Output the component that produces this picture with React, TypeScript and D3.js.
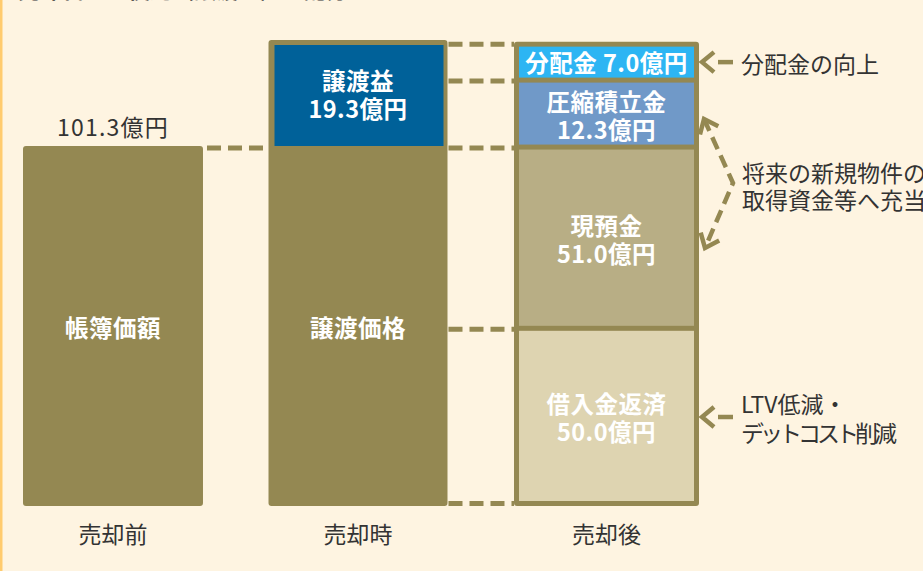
import React from 'react';
import * as d3 from 'd3';

// --- data ---
const categories = ['売却前', '売却時', '売却後'];
const bookValue = 101.3;
const gainOnSale = 19.3;
const afterLabels = ['借入金返済', '現預金', '圧縮積立金', '分配金'];
const afterValues = [50.0, 51.0, 12.3, 7.0];
const afterColors = ['#ded4b1', '#b8ae85', '#7099c8', '#2db5f3'];
const noteDistribution = ['分配金の向上'];
const noteCash = ['将来の新規物件の', '取得資金等へ充当'];
const noteDebt = ['LTV低減・', 'デットコスト削減'];
const title = '売却代金の使途（譲渡益）の配分イメージ';

const W = 923;
const H = 571;
const OLIVE = '#948852';
const FONT = '"Noto Sans CJK JP", "Noto Sans", sans-serif';

const fmt = (v: number) => `${v.toFixed(1)}億円`;

export default function App() {
  const total = bookValue + gainOnSale;
  const y = d3.scaleLinear().domain([0, bookValue, total]).range([506, 146, 40]);
  const x = d3.scaleBand<string>().domain(categories).range([23, 696]).paddingInner(0.2587).paddingOuter(0);
  const bw = x.bandwidth();

  // stacked segments for the "after" bar
  const stack = afterValues.map((v, i) => {
    const lo = d3.sum(afterValues.slice(0, i));
    return { label: afterLabels[i], value: v, lo, hi: lo + v, color: afterColors[i], i };
  });
  const afterTotal = d3.sum(afterValues);

  const x1 = x(categories[0])!;
  const x2 = x(categories[1])!;
  const x3 = x(categories[2])!;
  const bw1 = bw - 2;
  const bw2 = bw - 3;
  const bw3 = bw + 3;

  const bar3Top = y(afterTotal);

  // dashed connector levels (bar2 -> bar3)
  const levels = [0, ...stack.map((s) => s.hi)];
  const levelY = (v: number, i: number) =>
    i === 0 ? y(0) - 2.5 : i === levels.length - 1 ? y(v) + 2.5 : y(v) + 1;

  const arrowHead = (tx: number, ty: number, fx: number, fy: number, len = 16, ang = 0.68) => {
    const a = Math.atan2(fy - ty, fx - tx);
    const p1 = [tx + len * Math.cos(a - ang), ty + len * Math.sin(a - ang)];
    const p2 = [tx + len * Math.cos(a + ang), ty + len * Math.sin(a + ang)];
    return `M${p1[0]},${p1[1]}L${tx},${ty}L${p2[0]},${p2[1]}`;
  };

  const labelStyle = { fontFamily: FONT, fontWeight: 700, fontSize: 23.5, fill: '#fff', letterSpacing: 0.5 } as const;
  const noteStyle = { fontFamily: FONT, fontSize: 23, fill: '#333' } as const;

  const segY = (s: (typeof stack)[number]) => {
    const top = y(s.hi) + (s.i === stack.length - 1 ? 5 : 2.5);
    const bot = y(s.lo) - (s.i === 0 ? 5 : 2.5);
    return { top, bot };
  };

  const arrowLeft = (ax: number, ay: number) => (
    <g stroke={OLIVE} strokeWidth={4.5} fill="none">
      <path d={`M${ax + 13},${ay - 10}L${ax + 1},${ay}L${ax + 13},${ay + 10}`} strokeLinejoin="miter" />
      <line x1={ax + 17} x2={ax + 32} y1={ay} y2={ay} />
    </g>
  );

  const curve: [number, number][] = [
    [704, 119],
    [733, 183],
    [705, 248],
  ];

  return (
    <div style={{ position: 'absolute', left: 0, top: 0 }}>
      <svg width={W} height={H} style={{ display: 'block' }}>
        <rect width={W} height={H} fill="#fef4e1" />
        <rect x={0} y={0} width={2.5} height={H} fill="#ffcb6e" />
        <text x={18} y={-2.5} style={{ fontFamily: FONT, fontWeight: 700, fontSize: 22, fill: '#333' }}>
          {title}
        </text>

        {/* dashed connectors */}
        <g stroke={OLIVE} strokeWidth={5} strokeDasharray="14 7" fill="none">
          <line x1={x1 + bw1 + 4} x2={x2} y1={y(bookValue) + 2} y2={y(bookValue) + 2} />
          {levels.map((v, i) => (
            <line key={i} x1={x2 + bw2 + 1} x2={x3} y1={levelY(v, i)} y2={levelY(v, i)} />
          ))}
        </g>

        {/* bar 1: book value */}
        <rect x={x1} y={y(bookValue)} width={bw1} height={y(0) - y(bookValue)} rx={3} fill={OLIVE} />
        <text x={x1 + bw1 / 2} y={y(bookValue) - 20} textAnchor="middle" dominantBaseline="central" style={{ ...noteStyle, letterSpacing: 1.2 }}>
          {fmt(bookValue)}
        </text>
        <text x={x1 + bw1 / 2} y={(y(0) + y(bookValue)) / 2 + 1} textAnchor="middle" dominantBaseline="central" style={labelStyle}>
          帳簿価額
        </text>

        {/* bar 2: sale price */}
        <rect x={x2} y={y(total)} width={bw2} height={y(0) - y(total)} rx={3} fill={OLIVE} />
        <rect x={x2 + 6} y={y(total) + 5} width={bw2 - 10} height={y(bookValue) - y(total) - 5} fill="#006199" />
        <text x={x2 + bw2 / 2} y={(y(total) + y(bookValue)) / 2 - 13} textAnchor="middle" dominantBaseline="central" style={labelStyle}>
          譲渡益
        </text>
        <text x={x2 + bw2 / 2} y={(y(total) + y(bookValue)) / 2 + 15} textAnchor="middle" dominantBaseline="central" style={labelStyle}>
          {fmt(gainOnSale)}
        </text>
        <text x={x2 + bw2 / 2} y={(y(0) + y(bookValue)) / 2 + 1} textAnchor="middle" dominantBaseline="central" style={labelStyle}>
          譲渡価格
        </text>

        {/* bar 3: use of proceeds */}
        <rect x={x3} y={bar3Top} width={bw3} height={y(0) - bar3Top} rx={3} fill={OLIVE} />
        {stack.map((s) => {
          const { top, bot } = segY(s);
          const cx = x3 + bw3 / 2;
          const cy = (top + bot) / 2;
          const single = s.i === stack.length - 1;
          return (
            <g key={s.label}>
              <rect x={x3 + 5} y={top} width={bw3 - 10} height={bot - top} fill={s.color} />
              {single ? (
                <text x={cx} y={cy} textAnchor="middle" dominantBaseline="central" style={labelStyle}>
                  {`${s.label} ${fmt(s.value)}`}
                </text>
              ) : (
                <>
                  <text x={cx} y={cy - 13} textAnchor="middle" dominantBaseline="central" style={labelStyle}>
                    {s.label}
                  </text>
                  <text x={cx} y={cy + 15} textAnchor="middle" dominantBaseline="central" style={labelStyle}>
                    {fmt(s.value)}
                  </text>
                </>
              )}
            </g>
          );
        })}

        {/* annotations */}
        {arrowLeft(x3 + bw3 + 2, (segY(stack[3]).top + segY(stack[3]).bot) / 2)}
        <text x={741} y={63} dominantBaseline="central" style={noteStyle}>
          {noteDistribution[0]}
        </text>

        <g stroke={OLIVE} strokeWidth={4.5} fill="none">
          <path d={d3.line()(curve)!} strokeDasharray="13 7" />
          <path d={arrowHead(curve[0][0], curve[0][1], curve[1][0], curve[1][1])} />
          <path d={arrowHead(curve[2][0], curve[2][1], curve[1][0], curve[1][1])} />
        </g>
        {noteCash.map((t, i) => (
          <text key={t} x={742} y={172 + i * 27} dominantBaseline="central" style={noteStyle}>
            {t}
          </text>
        ))}

        {arrowLeft(x3 + bw3 + 2, 417)}
        {noteDebt.map((t, i) => (
          <text
            key={t}
            x={741}
            y={403 + i * 29}
            dominantBaseline="central"
            style={{ ...noteStyle, letterSpacing: i === 1 ? -4 : 0 }}
          >
            {t}
          </text>
        ))}

        {/* category labels */}
        {categories.map((k, i) => (
          <text key={k} x={x(k)! + [bw1, bw2, bw3][i] / 2} y={533} textAnchor="middle" dominantBaseline="central" style={noteStyle}>
            {k}
          </text>
        ))}
      </svg>
    </div>
  );
}
